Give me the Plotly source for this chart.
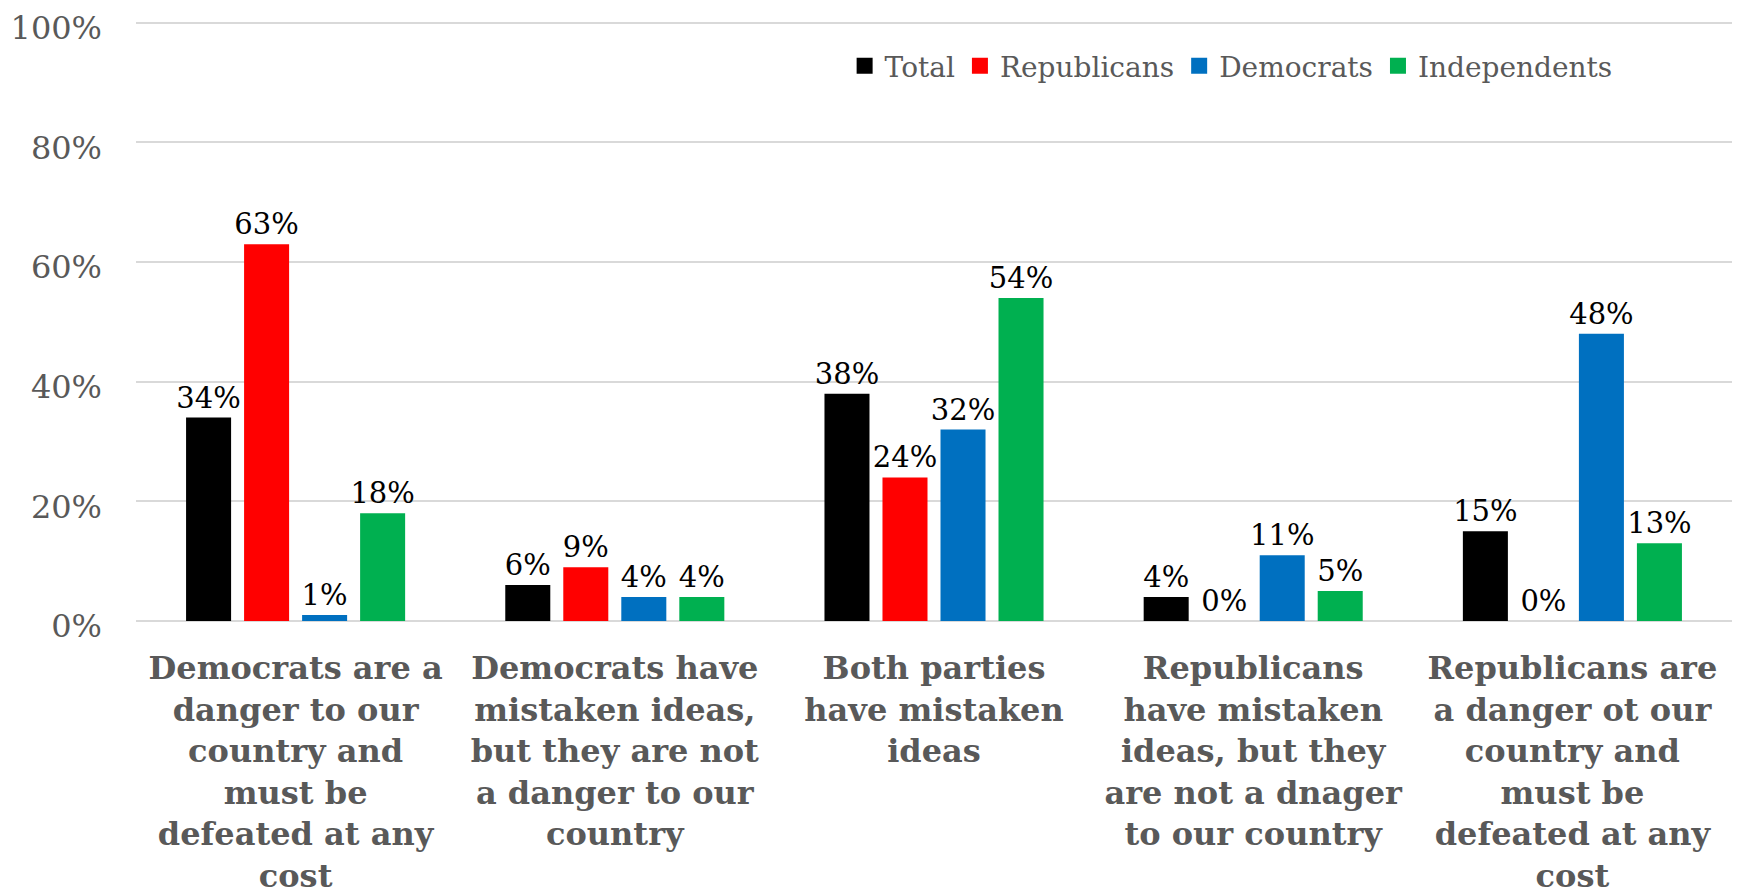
import plotly.graph_objects as go

categories = [
    "Democrats are a<br>danger to our<br>country and<br>must be<br>defeated at any<br>cost",
    "Democrats have<br>mistaken ideas,<br>but they are not<br>a danger to our<br>country",
    "Both parties<br>have mistaken<br>ideas",
    "Republicans<br>have mistaken<br>ideas, but they<br>are not a dnager<br>to our country",
    "Republicans are<br>a danger ot our<br>country and<br>must be<br>defeated at any<br>cost",
]
series_names = ["Total", "Republicans", "Democrats", "Independents"]
total = [34, 6, 38, 4, 15]
republicans = [63, 9, 24, 0, 0]
democrats = [1, 4, 32, 11, 48]
independents = [18, 4, 54, 5, 13]
colors = ["#000000", "#FF0000", "#0070C0", "#00B050"]
y_ticks = [0, 20, 40, 60, 80, 100]
y_tick_text = ["0%", "20%", "40%", "60%", "80%", "100%"]

FONT = "Georgia, 'DejaVu Serif', serif"
GREY = "#595959"

fig = go.Figure()
for name, vals, col in zip(series_names, [total, republicans, democrats, independents], colors):
    fig.add_trace(go.Bar(
        name=name, x=categories, y=vals,
        marker=dict(color=col, line=dict(width=0)),
        text=[f"{v}%" for v in vals], textposition="outside",
        textfont=dict(family=FONT, size=29, color="#000000"),
        constraintext="none",
        cliponaxis=False, showlegend=False,
    ))
# legend proxies with larger square swatches
for name, col in zip(series_names, colors):
    fig.add_trace(go.Scatter(
        name=name, x=[categories[0]], y=[None], mode="markers",
        marker=dict(symbol="square", size=17, color=col),
        showlegend=True, hoverinfo="skip",
    ))

fig.update_layout(
    width=1746, height=895,
    margin=dict(l=128, r=22, t=13, b=282, autoexpand=False),
    paper_bgcolor="white", plot_bgcolor="white",
    barmode="group", bargap=0.273, bargroupgap=0.224,
    font=dict(family=FONT, color=GREY),
    legend=dict(
        orientation="h", x=0.444, xanchor="left", y=0.925, yanchor="middle",
        font=dict(family=FONT, size=28, color=GREY),
        bgcolor="rgba(0,0,0,0)", traceorder="normal",
        itemwidth=30,
    ),
    showlegend=True,
)
fig.update_yaxes(
    range=[0, 100.3], tickmode="array", tickvals=y_ticks, ticktext=y_tick_text,
    showgrid=True, gridcolor="#D9D9D9", gridwidth=1.5,
    zeroline=True, zerolinecolor="#D9D9D9", zerolinewidth=1.5,
    showline=False, tickfont=dict(family=FONT, size=32, color=GREY),
    ticklabelstandoff=33, ticklabelshift=5,
    automargin=False, ticklabeloverflow="allow",
)
fig.update_xaxes(
    showline=False, showgrid=False, tickangle=0, automargin=False,
    tickfont=dict(family=FONT, size=32, color=GREY, weight="bold"),
    ticklabelstandoff=25, ticklabeloverflow="allow",
)

fig.write_html("out.html")
